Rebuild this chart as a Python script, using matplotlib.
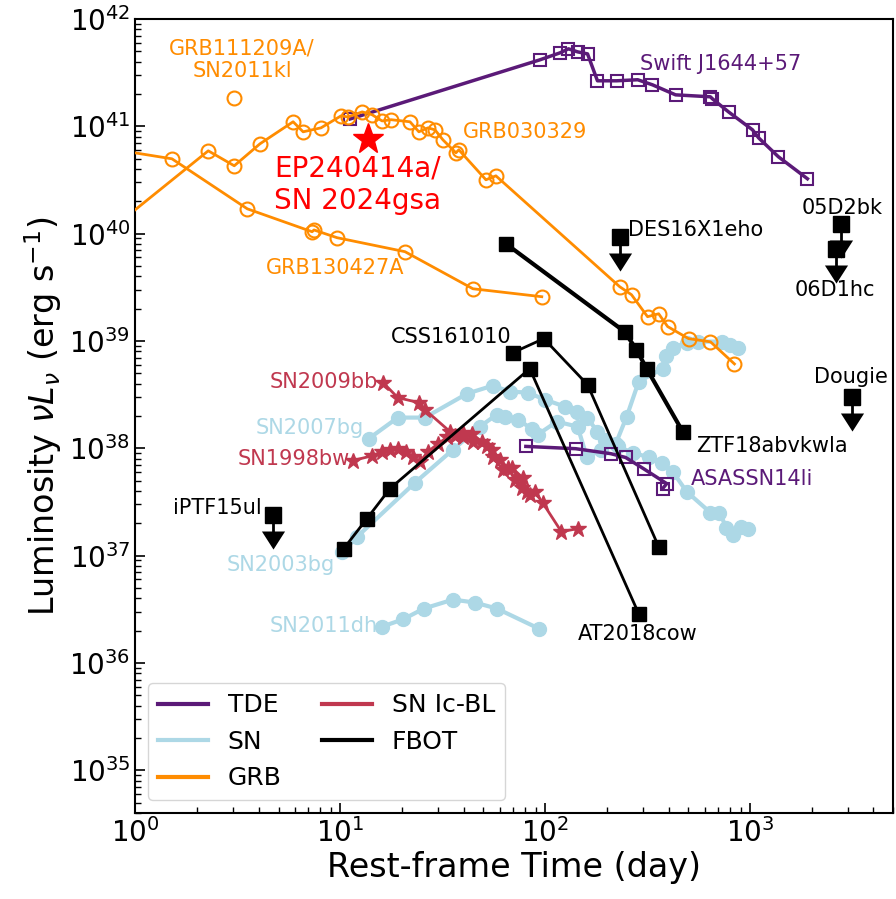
import numpy as np
import matplotlib
matplotlib.use("Agg")
import matplotlib.pyplot as plt
from matplotlib.lines import Line2D

# colours per class
c_tde = '#5b1a78'
c_sn = 'lightblue'
c_grb = 'darkorange'
c_icbl = '#c0384f'
c_fbot = 'black'

# ---- GRBs (open circles) ----
grb030329_t = [0.6, 2.27, 3.04, 4.06, 5.89, 6.59, 8.06, 10.1, 10.9, 12.8, 14.3, 16.0, 17.7,
               21.9, 24.2, 26.8, 29.0, 31.7, 36.7, 37.9, 51.4, 57.5, 231, 264, 316, 358,
               396, 501, 641, 839]
grb030329_L = [7.6e39, 5.9e40, 4.28e40, 6.86e40, 1.10e41, 8.87e40, 9.66e40, 1.25e41, 1.22e41,
               1.36e41, 1.28e41, 1.12e41, 1.15e41, 1.10e41, 8.87e40, 9.66e40, 9.25e40, 7.47e40,
               5.65e40, 6.03e40, 3.17e40, 3.45e40, 3.20e39, 2.69e39, 1.68e39, 1.79e39, 1.36e39,
               1.05e39, 9.8e38, 6.1e38]

grb130427a_t = [0.6, 1.51, 3.52, 7.29, 7.45, 9.65, 20.7, 44.4, 96.3]
grb130427a_L = [6.6e40, 4.97e40, 1.70e40, 1.04e40, 1.08e40, 9.15e39, 6.78e39, 3.06e39, 2.58e39]

grb111209a_t = [3.04]
grb111209a_L = [1.84e41]

# ---- EP240414a ----
ep_t = [13.7]
ep_L = [7.6e40]

# ---- TDEs (open squares) ----
swift1644_t = [11.2, 94.1, 118, 130, 144, 161, 180, 223, 283, 334, 433, 640, 655, 785,
               1028, 1100, 1375, 1905]
swift1644_L = [1.17e41, 4.15e41, 4.82e41, 5.26e41, 4.93e41, 4.72e41, 2.65e41, 2.65e41,
               2.71e41, 2.43e41, 1.96e41, 1.88e41, 1.80e41, 1.36e41, 9.25e40, 7.8e40,
               5.19e40, 3.24e40]

asassn14li_t = [80.5, 141, 209, 247, 302, 392, 374]
asassn14li_L = [1.04e38, 9.9e37, 8.9e37, 8.2e37, 6.45e37, 4.68e37, 4.2e37]

# ---- FBOTs (filled squares) ----
css161010_t = [69.5, 98.5, 161, 358]
css161010_L = [7.76e38, 1.05e39, 3.91e38, 1.21e37]

at2018cow_t = [10.4, 13.5, 17.5, 84.1, 286]
at2018cow_L = [1.16e37, 2.21e37, 4.21e37, 5.51e38, 2.88e36]

ztf18_t = [64.3, 244, 279, 313, 469]
ztf18_L = [8.04e39, 1.22e39, 8.28e38, 5.51e38, 1.43e38]

# FBOT upper limits
ul_names = ['iPTF15ul', 'DES16X1eho', '05D2bk', '06D1hc', 'Dougie']
ul_t = [4.71, 231, 2790, 2640, 3160]
ul_L = [2.41e37, 9.33e39, 1.23e40, 7.2e39, 3.02e38]

# ---- SNe (filled circles) ----
sn2007bg_t = [13.8, 19.1, 25.9, 41.5, 55.5, 67.2, 82.3, 99.6, 125, 143, 160, 180, 195, 226,
              267, 323, 370, 419, 490, 641, 709, 767, 821, 908, 982]
sn2007bg_L = [1.23e38, 1.93e38, 1.93e38, 3.22e38, 3.83e38, 3.37e38, 3.30e38, 2.84e38, 2.44e38,
              2.19e38, 1.93e38, 1.43e38, 1.20e38, 1.04e38, 9.1e37, 8.2e37, 7.3e37, 6.05e37,
              3.95e37, 2.51e37, 2.51e37, 1.82e37, 1.57e37, 1.86e37, 1.75e37]

sn2003bg_t = [10.2, 12.1, 23.2, 35.5, 48.0, 58.1, 63.5, 73.5, 86.0, 92.0, 114, 144, 160, 187,
              221, 250, 286, 374, 387, 419, 490, 554, 726, 794, 878]
sn2003bg_L = [1.07e37, 1.50e37, 4.79e37, 9.7e37, 1.59e38, 2.06e38, 1.97e38, 1.85e38, 1.52e38,
              1.34e38, 1.77e38, 1.59e38, 8.2e37, 9.7e37, 1.10e38, 1.97e38, 4.17e38, 5.51e38,
              7.28e38, 8.65e38, 9.6e38, 9.85e38, 9.85e38, 9.2e38, 8.65e38]

sn2011dh_t = [16.0, 20.2, 25.6, 35.5, 45.4, 58.1, 93.1]
sn2011dh_L = [2.18e36, 2.54e36, 3.21e36, 3.89e36, 3.65e36, 3.21e36, 2.09e36]

# ---- SN Ic-BL (stars) ----
sn1998bw_t = [11.5, 14.3, 16.0, 17.5, 19.1, 20.9, 22.6, 24.5, 26.8, 30.0, 33.1, 36.3, 39.7,
              43.9, 49.1, 55.0, 60.1, 65.7, 71.1, 76.9, 84.1]
sn1998bw_L = [7.67e37, 8.5e37, 9.3e37, 9.7e37, 9.9e37, 9.3e37, 8.35e37, 7.5e37, 9.3e37, 1.10e38,
              1.26e38, 1.31e38, 1.40e38, 1.37e38, 1.15e38, 9.7e37, 7.8e37, 6.6e37, 5.1e37,
              4.3e37, 3.7e37]

sn2009bb_t = [16.2, 19.1, 24.2, 25.9, 34.3, 39.7, 44.4, 51.9, 55.5, 62.2, 68.7, 77.8, 81.3,
              89.0, 97.3, 120, 144]
sn2009bb_L = [4.08e38, 2.96e38, 2.66e38, 2.29e38, 1.43e38, 1.26e38, 1.15e38, 1.04e38, 8.35e37,
              6.3e37, 6.6e37, 5.3e37, 3.95e37, 3.95e37, 3.1e37, 1.67e37, 1.78e37]


fig, ax = plt.subplots(figsize=(8.96, 8.99), dpi=100)
plt.subplots_adjust(left=0.151, right=0.997, bottom=0.0957, top=0.979)

sn_kw = dict(color=c_sn, marker='o', ms=10, lw=3, zorder=1)
ax.plot(sn2007bg_t, sn2007bg_L, **sn_kw)
ax.plot(sn2003bg_t, sn2003bg_L, **sn_kw)
ax.plot(sn2011dh_t, sn2011dh_L, **sn_kw)

icbl_kw = dict(color=c_icbl, marker='*', ms=12, lw=2, zorder=2)
ax.plot(sn1998bw_t, sn1998bw_L, **icbl_kw)
ax.plot(sn2009bb_t, sn2009bb_L, **icbl_kw)

tde_kw = dict(color=c_tde, marker='s', ms=9, mfc='none', mew=1.5, lw=2.5, zorder=3)
ax.plot(swift1644_t, swift1644_L, **tde_kw)
ax.plot(asassn14li_t, asassn14li_L, **tde_kw)

grb_kw = dict(color=c_grb, marker='o', ms=10, mfc='none', mew=1.5, lw=2, zorder=4)
ax.plot(grb030329_t, grb030329_L, **grb_kw)
ax.plot(grb130427a_t, grb130427a_L, **grb_kw)
ax.plot(grb111209a_t, grb111209a_L, **grb_kw)

fbot_kw = dict(color=c_fbot, marker='s', ms=10, zorder=5)
ax.plot(css161010_t, css161010_L, lw=2, **fbot_kw)
ax.plot(at2018cow_t, at2018cow_L, lw=2, **fbot_kw)
ax.plot(ztf18_t, ztf18_L, lw=3, **fbot_kw)

# upper limits: square + stem + wide downward triangle
tri = [(-1, 0), (1, 0), (0, -1.56)]
for t, L in zip(ul_t, ul_L):
    L_arrow = L * 10**-0.15
    ax.plot([t, t], [L, L_arrow], color='k', lw=2, zorder=5)
    ax.plot(t, L, marker='s', ms=11, color='k', zorder=6)
    ax.plot(t, L_arrow, marker=tri, ms=26, color='k', mew=0, zorder=6)

ax.plot(ep_t, ep_L, marker='*', ms=23, color='red', lw=0, zorder=7)

# labels
fs = 15
ax.text(3.32, 4.15e41, 'GRB111209A/\nSN2011kl', color=c_grb, fontsize=fs,
        ha='center', va='center', multialignment='center')
ax.text(12.2, 2.84e40, 'EP240414a/\nSN 2024gsa', color='red', fontsize=20,
        ha='center', va='center', multialignment='left')
ax.text(39.7, 8.87e40, 'GRB030329', color=c_grb, fontsize=fs, ha='left', va='center')
ax.text(4.35, 4.81e39, 'GRB130427A', color=c_grb, fontsize=fs, ha='left', va='center')
ax.text(289, 3.81e41, 'Swift J1644+57', color=c_tde, fontsize=fs, ha='left', va='center')
ax.text(513, 5.2e37, 'ASASSN14li', color=c_tde, fontsize=fs, ha='left', va='center')
ax.text(255, 1.08e40, 'DES16X1eho', color='k', fontsize=fs, ha='left', va='center')
ax.text(1780, 1.74e40, '05D2bk', color='k', fontsize=fs, ha='left', va='center')
ax.text(1646, 3.0e39, '06D1hc', color='k', fontsize=fs, ha='left', va='center')
ax.text(2060, 4.65e38, 'Dougie', color='k', fontsize=fs, ha='left', va='center')
ax.text(548, 1.04e38, 'ZTF18abvkwla', color='k', fontsize=fs, ha='left', va='center')
ax.text(144, 1.84e36, 'AT2018cow', color='k', fontsize=fs, ha='left', va='center')
ax.text(68.7, 1.09e39, 'CSS161010', color='k', fontsize=fs, ha='right', va='center')
ax.text(4.16, 2.8e37, 'iPTF15ul', color='k', fontsize=fs, ha='right', va='center')
ax.text(15.3, 4.17e38, 'SN2009bb', color=c_icbl, fontsize=fs, ha='right', va='center')
ax.text(11.2, 8.0e37, 'SN1998bw', color=c_icbl, fontsize=fs, ha='right', va='center')
ax.text(13.1, 1.56e38, 'SN2007bg', color=c_sn, fontsize=fs, ha='right', va='center')
ax.text(9.44, 8.2e36, 'SN2003bg', color=c_sn, fontsize=fs, ha='right', va='center')
ax.text(15.3, 2.23e36, 'SN2011dh', color=c_sn, fontsize=fs, ha='right', va='center')

ax.set_xscale('log')
ax.set_yscale('log')
ax.set_xlim(1, 5000)
ax.set_ylim(4e34, 1e42)
ax.set_xlabel('Rest-frame Time (day)', fontsize=24, labelpad=2)
ax.set_ylabel(r'Luminosity $\nu L_\nu$ (erg s$^{-1}$)', fontsize=24)
ax.tick_params(which='both', direction='in', labelsize=20)
ax.tick_params(which='major', length=7, width=1.2)
ax.tick_params(which='minor', length=4, width=1)
for s in ax.spines.values():
    s.set_linewidth(1.5)

handles = [Line2D([], [], color=c_tde, lw=3, label='TDE'),
           Line2D([], [], color=c_sn, lw=3, label='SN'),
           Line2D([], [], color=c_grb, lw=3, label='GRB'),
           Line2D([], [], color=c_icbl, lw=3, label='SN Ic-BL'),
           Line2D([], [], color=c_fbot, lw=3, label='FBOT')]
ax.legend(handles=handles, loc='lower left', ncol=2, fontsize=18, columnspacing=1.6)

plt.savefig('out.png', dpi=100)
